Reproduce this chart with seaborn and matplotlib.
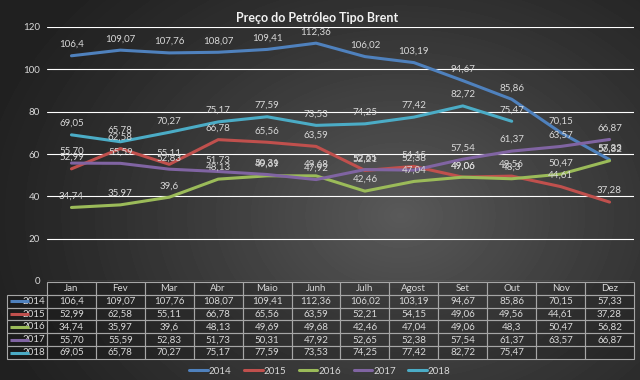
import matplotlib
matplotlib.use("Agg")
import matplotlib.pyplot as plt
import seaborn as sns
import pandas as pd
import numpy as np

meses = ["Jan", "Fev", "Mar", "Abr", "Maio", "Junh", "Julh", "Agost", "Set", "Out", "Nov", "Dez"]
anos = ["2014", "2015", "2016", "2017", "2018"]
p2014 = ["106,4", "109,07", "107,76", "108,07", "109,41", "112,36", "106,02", "103,19", "94,67", "85,86", "70,15", "57,33"]
p2015 = ["52,99", "62,58", "55,11", "66,78", "65,56", "63,59", "52,21", "54,15", "49,06", "49,56", "44,61", "37,28"]
p2016 = ["34,74", "35,97", "39,6", "48,13", "49,69", "49,68", "42,46", "47,04", "49,06", "48,3", "50,47", "56,82"]
p2017 = ["55,70", "55,59", "52,83", "51,73", "50,31", "47,92", "52,65", "52,38", "57,54", "61,37", "63,57", "66,87"]
p2018 = ["69,05", "65,78", "70,27", "75,17", "77,59", "73,53", "74,25", "77,42", "82,72", "75,47", "", ""]
series = [p2014, p2015, p2016, p2017, p2018]
cores = ["#4F81BD", "#C0504D", "#9BBB59", "#8064A2", "#4BACC6"]
txt_cor = "#d9d9d9"

# dados em formato longo
linhas = []
for ano, serie in zip(anos, series):
    for i, s in enumerate(serie):
        if s:
            linhas.append({"ano": ano, "pos": i, "valor": float(s.replace(",", ".")), "rotulo": s})
df = pd.DataFrame(linhas)

sns.set_theme(style="dark")
plt.rcParams["font.family"] = ["Lato", "DejaVu Sans"]

fig = plt.figure(figsize=(6.4, 3.8), dpi=100)

# fundo com gradiente radial
bg = fig.add_axes([0, 0, 1, 1], zorder=-5)
yy, xx = np.mgrid[0:380, 0:640]
d = np.sqrt(((xx - 400) / 430.0) ** 2 + ((yy - 215) / 330.0) ** 2)
grad = 0.13 + 0.22 * (1 - np.clip(d, 0, 1)) ** 1.2
bg.imshow(grad, cmap="gray", vmin=0, vmax=1, aspect="auto", interpolation="bilinear")
bg.axis("off")

ax = fig.add_axes([47 / 640, 1 - 281 / 380, 587 / 640, 254 / 380])
ax.set_facecolor("none")
sns.lineplot(data=df, x="pos", y="valor", hue="ano", palette=cores,
             linewidth=2.2, sort=False, ax=ax)

for _, r in df.iterrows():
    ax.annotate(r["rotulo"], (r["pos"], r["valor"]), xytext=(0, 5),
                textcoords="offset points", ha="center", va="bottom",
                fontsize=7, color=txt_cor)

ax.set_xlim(-0.5, 11.5)
ax.set_ylim(0, 120)
ax.set_yticks(range(0, 121, 20))
ax.set_xticks([])
ax.set_xlabel("")
ax.set_ylabel("")
ax.tick_params(axis="y", colors=txt_cor, labelsize=7, length=0, pad=5)
ax.grid(axis="y", color=(1, 1, 1, 0.13), linewidth=0.8)
ax.grid(axis="x", visible=False)
for sp in ax.spines.values():
    sp.set_visible(False)

handles, labels = ax.get_legend_handles_labels()
ax.get_legend().remove()

# tabela de dados (bbox = grade das colunas de meses)
lab_w = 40 / 587
row_h = 0.303 / 6
tab = ax.table(cellText=series, colLabels=meses, cellLoc="center",
               colWidths=[1 / 12] * 12,
               bbox=[0, -0.307, 1, 0.303])
h = tab[0, 0].get_height()
for k, ano in enumerate(anos):
    tab.add_cell(k + 1, -1, width=lab_w, height=h, text=ano, loc="right")
tab.auto_set_font_size(False)
tab.set_fontsize(7)
for (r, c), cell in tab.get_celld().items():
    cell.set_edgecolor("#a6a6a6")
    cell.set_linewidth(0.8)
    cell.set_facecolor((0, 0, 0, 0.18))
    cell.get_text().set_color(txt_cor)
    if c == -1:
        cell.PAD = 0.04

# marcas de cor nas linhas da tabela
for k, cor in enumerate(cores):
    yc = -0.004 - (k + 1.5) * row_h
    ax.plot([-37 / 587, -18 / 587], [yc, yc], transform=ax.transAxes,
            clip_on=False, color=cor, linewidth=2.2, solid_capstyle="butt")

fig.legend(handles, labels, loc="center", bbox_to_anchor=(0.5, 1 - 371 / 380),
           ncol=5, frameon=False, fontsize=7, labelcolor=txt_cor,
           handlelength=1.9, handletextpad=0.1, columnspacing=1.3)

fig.text(317 / 640, 1 - 18 / 380, "Preço do Petróleo Tipo Brent", ha="center",
         va="center", fontsize=9, fontweight="bold", color="#f2f2f2")

fig.savefig("out.png", dpi=100)
